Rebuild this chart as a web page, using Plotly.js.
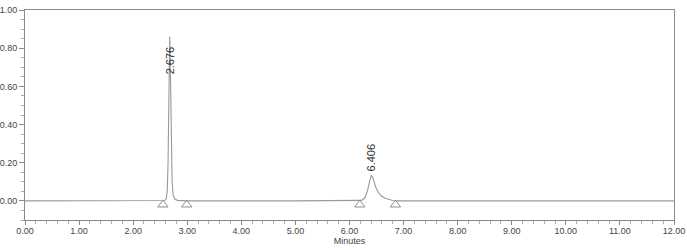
<!DOCTYPE html>
<html>
<head>
<meta charset="utf-8">
<script src="https://cdn.plot.ly/plotly-3.0.1.min.js"></script>
<style>html,body{margin:0;padding:0;background:#fff;}#chart{width:687px;height:250px;}</style>
</head>
<body>
<div id="chart"></div>
<script>
// Retention time (minutes) and detector response (AU)
const timeMin = [0, 1.5, 2.0, 2.5, 2.58, 2.61, 2.63, 2.645, 2.66, 2.676, 2.69, 2.705, 2.72, 2.74, 2.77, 2.82, 2.9, 3.0,
                 5.0, 6.15, 6.22, 6.28, 6.33, 6.37, 6.406, 6.44, 6.48, 6.53, 6.58, 6.65, 6.72, 6.8, 6.9, 9.0, 12.0];
const response = [0, 0, 0, 0, 0.002, 0.01, 0.05, 0.2, 0.6, 0.86, 0.65, 0.3, 0.1, 0.03, 0.01, 0.003, 0, 0,
                  0, 0, 0.003, 0.015, 0.05, 0.1, 0.135, 0.115, 0.075, 0.045, 0.028, 0.015, 0.007, 0.002, 0, 0, 0];
// Peak apex labels
const peakTimes = [2.676, 6.406];
const peakLabels = ["2.676", "6.406"];
const peakLabelY = [0.735, 0.23];
// Integration start/end markers
const markTimes = [2.55, 2.99, 6.19, 6.85];
const markY = [-0.02, -0.02, -0.02, -0.02];
// Axis ticks
const xTicks = [0,1,2,3,4,5,6,7,8,9,10,11,12];
const xTickText = xTicks.map(v => v.toFixed(2));
const yTicks = [0, 0.2, 0.4, 0.6, 0.8, 1.0];
const yTickText = yTicks.map(v => v.toFixed(2));

const lineCol = '#8a8a8a';
const textCol = '#444';

const data = [
  {x: timeMin, y: response, type: 'scatter', mode: 'lines',
   line: {color: '#999', width: 1.1}, hoverinfo: 'skip'},
  {x: markTimes, y: markY, type: 'scatter', mode: 'markers',
   marker: {symbol: 'triangle-up-open', size: 9, color: '#8f8f8f', line: {width: 1, color: '#8f8f8f'}}, hoverinfo: 'skip'}
];

const annotations = peakTimes.map((t, i) => ({
  x: t, y: peakLabelY[i], text: peakLabels[i], showarrow: false, textangle: -90,
  xanchor: 'center', yanchor: 'middle', font: {family: 'Liberation Sans, Arial, sans-serif', size: 11, color: '#333'}
}));

const layout = {
  width: 687, height: 250,
  margin: {l: 25, r: 12.5, t: 10, b: 30},
  paper_bgcolor: '#fff', plot_bgcolor: '#fff',
  showlegend: false,
  font: {family: 'Liberation Sans, Arial, sans-serif', size: 9, color: textCol},
  xaxis: {
    range: [0, 12], tickvals: xTicks, ticktext: xTickText,
    ticks: 'outside', ticklen: 4, tickcolor: lineCol, tickwidth: 1,
    minor: {dtick: 0.2, ticks: 'outside', ticklen: 3, tickcolor: '#aaa', showgrid: false},
    showline: true, linecolor: lineCol, linewidth: 1, mirror: true,
    showgrid: false, zeroline: false,
    ticklabelstandoff: -2,
    tickfont: {size: 9, color: textCol},
    title: {text: 'Minutes', font: {size: 9, color: textCol}, standoff: 2}
  },
  yaxis: {
    range: [-0.1, 1.0], tickvals: yTicks, ticktext: yTickText,
    ticks: 'outside', ticklen: 5, tickcolor: lineCol, tickwidth: 1,
    minor: {dtick: 0.05, ticks: 'outside', ticklen: 3, tickcolor: '#aaa', showgrid: false},
    showline: true, linecolor: lineCol, linewidth: 1, mirror: true,
    showgrid: false, zeroline: false,
    tickfont: {size: 9, color: textCol}
  },
  annotations: annotations
};

Plotly.newPlot('chart', data, layout, {staticPlot: true, displayModeBar: false});
</script>
</body>
</html>
